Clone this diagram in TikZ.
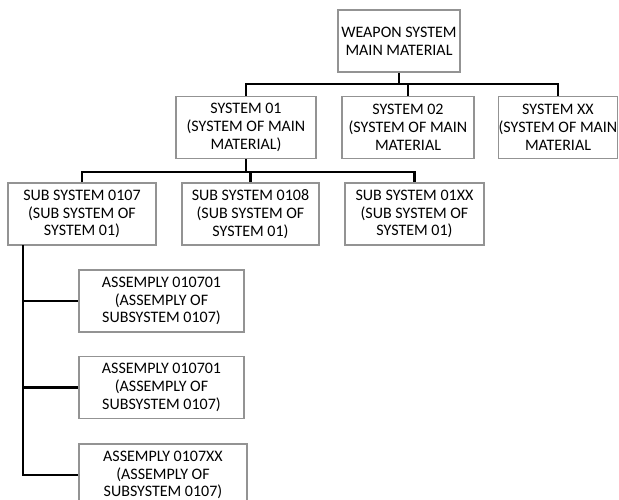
\documentclass[tikz,border=0pt]{standalone}
\usepackage{fontspec}
\setmainfont{Carlito}
\tikzset{
  box/.style={draw=gray!85, line width=1.3pt, rectangle, inner sep=0pt,
    minimum height=62pt, align=center,
    font=\fontsize{16}{17.7}\selectfont},
  link/.style={black, line width=2.8pt}
}
\begin{document}
\begin{tikzpicture}[x=1pt, y=1pt]
                \useasboundingbox (0,0) rectangle (619,-500);

                % Top level
                \node[box, minimum width=122pt] (wsm) at (399,-41) {WEAPON SYSTEM\\MAIN MATERIAL};

                % Systems
                \node[box, minimum width=140pt] (s01) at (246,-127.5) {SYSTEM 01\\(SYSTEM OF MAIN\\MATERIAL)};
                \node[box, minimum width=132pt] (s02) at (408,-127.5) {SYSTEM 02\\(SYSTEM OF MAIN\\MATERIAL};
                \node[box, minimum width=118pt] (sxx) at (558,-127.5) {SYSTEM XX\\(SYSTEM OF MAIN\\MATERIAL};

                % Sub systems
                \node[box, minimum width=148pt] (ss07) at (82,-214) {SUB SYSTEM 0107\\(SUB SYSTEM OF\\SYSTEM 01)};
                \node[box, minimum width=137pt] (ss08) at (250.5,-214) {SUB SYSTEM 0108\\(SUB SYSTEM OF\\SYSTEM 01)};
                \node[box, minimum width=139pt] (ss0x) at (414.5,-214) {SUB SYSTEM 01XX\\(SUB SYSTEM OF\\SYSTEM 01)};

                % Assemblies
                \node[box, minimum width=165pt] (as1) at (161.5,-301) {ASSEMPLY 010701\\(ASSEMPLY OF\\SUBSYSTEM 0107)};
                \node[box, minimum width=165pt] (as2) at (161.5,-387.5) {ASSEMPLY 010701\\(ASSEMPLY OF\\SUBSYSTEM 0107)};
                \node[box, minimum width=168pt] (as3) at (163,-475) {ASSEMPLY 0107XX\\(ASSEMPLY OF\\SUBSYSTEM 0107)};

                % Connectors
                \coordinate (b1) at (399,-84);
                \coordinate (b2) at (246,-172);
                \coordinate (tr) at (23,-245);
                \draw[link] (wsm.south) -- (b1);
                \draw[link] (s01.north) |- (b1) -| (sxx.north);
                \draw[link] (b1 -| s02.north) -- (s02.north);
                \draw[link] (s01.south) -- (b2);
                \draw[link] (ss07.north) |- (b2) -| (ss0x.north);
                \draw[link] (b2 -| ss08.north) -- (ss08.north);
                \draw[link] (tr) |- (as3.west);
                \draw[link] (tr |- as1.west) -- (as1.west);
                \draw[link] (tr |- as2.west) -- (as2.west);
            \end{tikzpicture}
\end{document}
